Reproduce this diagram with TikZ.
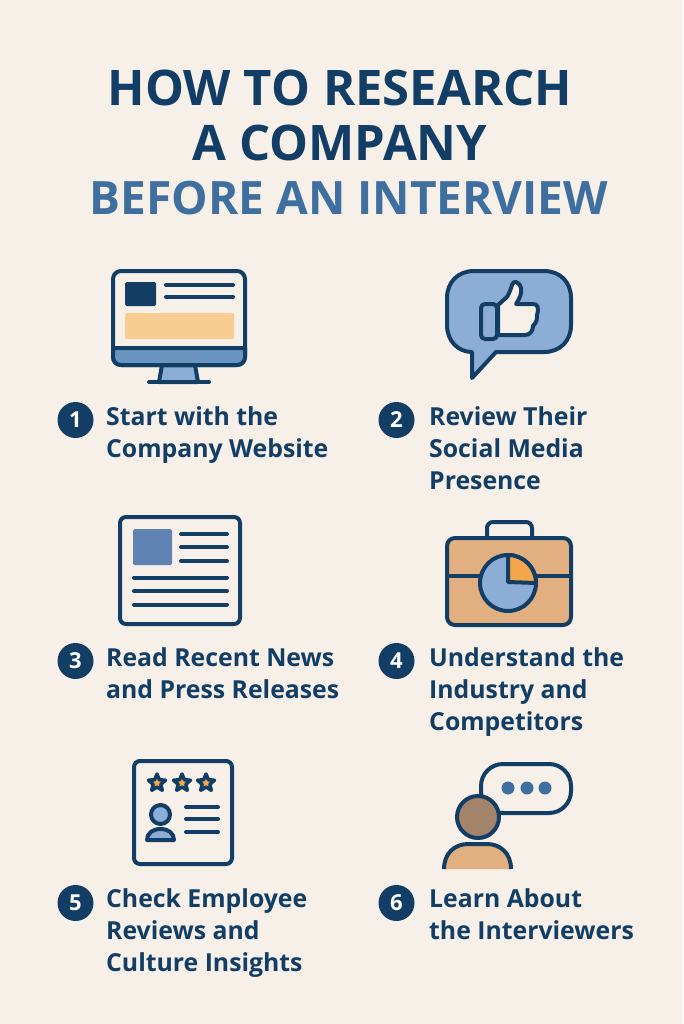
\documentclass[tikz,border=0pt]{standalone}
\usepackage{fontspec}
\setmainfont{Open Sans}
\usetikzlibrary{positioning,shapes.geometric}
\definecolor{paper}{HTML}{F7F0E8}
\definecolor{navy}{HTML}{123E66}
\definecolor{steel}{HTML}{3F6F9E}
\definecolor{skyblue}{HTML}{8CAED6}
\definecolor{midblue}{HTML}{6A95C0}
\definecolor{slateblue}{HTML}{5F84B4}
\definecolor{peach}{HTML}{F9CC92}
\definecolor{tan}{HTML}{E2B080}
\definecolor{amber}{HTML}{F3A64A}
\definecolor{umber}{HTML}{A3846A}
\tikzset{
  titleline/.style={font=\fontsize{49}{55}\selectfont\bfseries,text=navy,inner sep=0pt},
  subline/.style={font=\fontsize{46}{55}\selectfont\bfseries,text=steel,inner sep=0pt},
  stepbadge/.style={circle,fill=navy,text=white,minimum size=36pt,inner sep=0pt,font=\fontsize{22}{24}\selectfont\bfseries},
  steptext/.style={anchor=north west,align=left,text=navy,inner sep=0pt,font=\fontsize{24.8}{32}\selectfont\bfseries},
  icon/.style={draw=navy,line width=4pt,line join=round},
  bar/.style={draw=navy,line width=4pt,line cap=round},
  ratestar/.style={star,star points=5,star point ratio=2.2,draw=navy,fill=amber,line width=3.5pt,line join=round,minimum size=18pt,inner sep=0pt},
  talkdot/.style={circle,fill=#1,minimum size=13pt,inner sep=0pt}
}
\begin{document}
\begin{tikzpicture}[x=1pt,y=-1pt]
\path[use as bounding box,fill=paper] (0,0) rectangle (683,1024);

\node[titleline] (title1) at (340,88) {HOW TO RESEARCH};
\node[titleline] (title2) at (340,143) {A COMPANY};
\node[subline] (title3) at (349,198) {BEFORE AN INTERVIEW};

% website
\draw[icon,fill=skyblue] (162,365) -- (159,382) -- (198,382) -- (195,365) -- cycle;
\draw[bar] (149,382) -- (209,382);
\draw[icon,fill=paper,rounded corners=8pt] (113,271) rectangle (245,365);
\draw[icon,fill=midblue] (113,348) -- (245,348) [rounded corners=8pt] -- (245,365) -- (113,365) [sharp corners] -- cycle;
\fill[navy,rounded corners=1.5pt] (125,282) rectangle (156,306);
\draw[bar] (166,285) -- (233,285);
\draw[bar] (166,297) -- (233,297);
\fill[peach,rounded corners=1.5pt] (125,313) rectangle (234,339);

% social media
\draw[icon,fill=skyblue] (496,352) -- (544,352) .. controls (560,352) and (571,341) .. (571,325)
  -- (571,298) .. controls (571,282) and (560,271) .. (544,271) -- (474,271)
  .. controls (458,271) and (447,282) .. (447,298) -- (447,325)
  .. controls (447,341) and (458,352) .. (472,352) -- (472,378) -- cycle;
\draw[icon,fill=paper] (498,305) -- (507,297) .. controls (510,292) and (511,288) .. (512,285)
  .. controls (513,280) and (519,281) .. (521,288) .. controls (522,293) and (520,298) .. (516,304)
  -- (533,304) .. controls (538,304) and (539,308) .. (537,315) .. controls (537,319) and (537,322) .. (533,326)
  .. controls (533,331) and (530,335) .. (525,335) -- (498,335) -- cycle;
\draw[icon,fill=skyblue,rounded corners=4pt] (481,304) rectangle (497,339);

% news
\draw[icon,rounded corners=6pt] (120,517) rectangle (240,624);
\fill[slateblue,rounded corners=1.5pt] (133,529) rectangle (172,565);
\foreach \ypos in {534,547,561}
  \draw[bar] (181,\ypos) -- (227,\ypos);
\foreach \ypos in {577.5,591,604.5}
  \draw[bar] (134,\ypos) -- (227,\ypos);

% industry
\draw[icon,rounded corners=6pt] (487,538) -- (487,522) -- (532,522) -- (532,538);
\draw[icon,fill=tan,rounded corners=8pt] (447,538) rectangle (571,625);
\draw[icon] (447,576) -- (571,576);
\draw[icon,fill=skyblue] (508,583) circle [radius=28];
\draw[icon,fill=amber] (508,582) -- (508,555) arc [start angle=-90,end angle=0,radius=28] -- cycle;

% reviews
\draw[icon,rounded corners=6pt] (134,761) rectangle (232,864);
\foreach \xpos/\tag in {157/a,182/b,206/c}
  \node[ratestar] (star\tag) at (\xpos,783) {};
\draw[icon,fill=skyblue] (147,840) .. controls (147,833) and (153,829) .. (160.5,829)
  .. controls (168,829) and (174,833) .. (174,840) -- cycle;
\draw[icon,fill=skyblue] (160.5,814.5) circle [radius=9.5];
\foreach \ypos in {807,819,832}
  \draw[bar] (186,\ypos) -- (218,\ypos);

% interviewers
\draw[icon,rounded corners=22pt] (481,764) rectangle (571,813);
\foreach \xpos/\tag in {508/a,527/b,545/c}
  \node[talkdot=steel] (dot\tag) at (\xpos,788) {};
\fill[tan] (444,869) .. controls (444,853) and (455,844) .. (468,844) -- (487,844)
  .. controls (500,844) and (511,853) .. (511,869) -- cycle;
\draw[icon] (444,869) .. controls (444,853) and (455,844) .. (468,844) -- (487,844)
  .. controls (500,844) and (511,853) .. (511,869);
\draw[icon,fill=umber] (478,817) circle [radius=21];

% steps
\node[stepbadge] (n1) at (75.5,420) {1};
\node[stepbadge] (n2) at (396.5,420) {2};
\node[stepbadge] (n3) at (75.5,661) {3};
\node[stepbadge] (n4) at (396.5,661) {4};
\node[stepbadge] (n5) at (75.5,903) {5};
\node[stepbadge] (n6) at (396.5,903) {6};
\node[steptext] (t1) at (106,406) {Start with the\\Company Website};
\node[steptext] (t2) at (429,406) {Review Their\\Social Media\\Presence};
\node[steptext] (t3) at (106,647) {Read Recent News\\and Press Releases};
\node[steptext] (t4) at (429,647) {Understand the\\Industry and\\Competitors};
\node[steptext] (t5) at (106,888) {Check Employee\\Reviews and\\Culture Insights};
\node[steptext] (t6) at (429,888) {Learn About\\the Interviewers};
\end{tikzpicture}
\end{document}
